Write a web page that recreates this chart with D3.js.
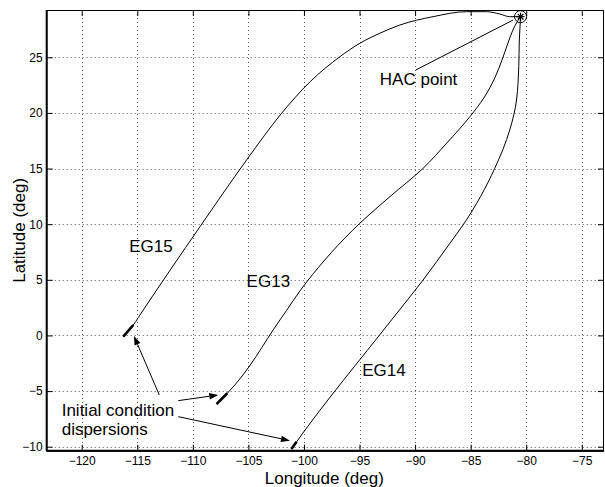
<!DOCTYPE html>
<html>
<head>
<meta charset="utf-8">
<script src="https://cdn.jsdelivr.net/npm/d3@7"></script>
<style>
  body { margin: 0; background: #fff; }
  text { font-family: "Liberation Sans", Arial, sans-serif; fill: #000; }
</style>
</head>
<body>
<div id="wrapper"></div>
<script>
// trajectories (longitude / latitude in deg)
const lonEG15 = [-116.26, -115.36, -114.46, -109.36, -105.16, -102.01, -99.47, -96.77, -94.97, -93.17, -91.37, -88.38, -85.37, -83.57, -82.38, -81.48, -80.51]
const latEG15 = [-0.11, 0.94, 2.29, 9.77, 15.77, 19.97, 22.78, 25.05, 26.26, 27.16, 27.90, 28.65, 29.10, 29.10, 28.89, 28.65, 28.65]

const lonEG13 = [-107.86, -106.90, -102.16, -99.76, -94.97, -92.27, -89.28, -87.14, -85.07, -83.82, -82.83, -82.11, -81.48, -81.03, -80.51]
const latEG13 = [-6.16, -5.20, 1.39, 4.80, 10.08, 12.47, 15.02, 17.30, 19.66, 21.34, 23.14, 24.94, 26.73, 27.81, 28.65]

const lonEG14 = [-101.13, -100.66, -92.12, -89.28, -86.87, -85.68, -82.83, -81.48, -80.87, -80.67, -80.62, -80.51]
const latEG14 = [-10.21, -9.55, 1.39, 4.98, 8.28, 9.93, 15.02, 18.47, 21.16, 24.16, 26.55, 28.65]

const hacPoint = [-80.51, 28.65]

const xTicks = [-120, -115, -110, -105, -100, -95, -90, -85, -80, -75]
const yTicks = [-10, -5, 0, 5, 10, 15, 20, 25]

const labels = [
    { text: "EG15", lon: -115.72, lat: 7.53 },
    { text: "EG13", lon: -105.16, lat: 4.38 },
    { text: "EG14", lon: -94.76, lat: -3.64 },
    { text: "HAC point", lon: -93.17, lat: 22.51 },
    { text: "Initial condition", lon: -121.80, lat: -7.24 },
    { text: "dispersions", lon: -121.80, lat: -8.95 },
]

// [from lon, from lat, to lon, to lat]
const arrows = [
    [-113.02, -5.35, -115.30, -0.05],
    [-111.31, -5.86, -107.71, -5.35],
    [-111.31, -7.30, -101.26, -9.46],
]
const hacLine = [-89.93, 23.86, -81.18, 28.35]

const dimensions = {
    width: 605,
    height: 487,
    left: 46.7,
    right: 604,
    top: 10,
    bottom: 450.7,
}

const svg = d3.select("#wrapper")
    .append("svg")
    .attr("width", dimensions.width)
    .attr("height", dimensions.height)

const xScale = d3.scaleLinear()
    .domain([-123.15, -73.0])
    .range([dimensions.left, dimensions.right])
const yScale = d3.scaleLinear()
    .domain([-10.36, 29.25])
    .range([dimensions.bottom, dimensions.top])

svg.append("defs").append("clipPath").attr("id", "plot")
    .append("rect")
    .attr("x", dimensions.left).attr("y", dimensions.top)
    .attr("width", dimensions.right - dimensions.left)
    .attr("height", dimensions.bottom - dimensions.top)

// grid
const grid = svg.append("g")
    .attr("stroke", "#555")
    .attr("stroke-width", 1)
    .attr("stroke-dasharray", "1,3")
grid.selectAll(".gx").data(xTicks).enter().append("line")
    .attr("x1", d => Math.round(xScale(d)) + 0.5).attr("x2", d => Math.round(xScale(d)) + 0.5)
    .attr("y1", dimensions.top).attr("y2", dimensions.bottom)
grid.selectAll(".gy").data(yTicks).enter().append("line")
    .attr("y1", d => Math.round(yScale(d)) + 0.5).attr("y2", d => Math.round(yScale(d)) + 0.5)
    .attr("x1", dimensions.left).attr("x2", dimensions.right)

// axes, ticks pointing inward on all four sides
const tickLen = 6
const minus = d => String(d).replace("-", "\u2212")
const xAxisBottom = d3.axisBottom(xScale).tickValues(xTicks).tickSize(-tickLen).tickPadding(6).tickFormat(minus)
const xAxisTop = d3.axisTop(xScale).tickValues(xTicks).tickSize(-tickLen).tickFormat("")
const yAxisLeft = d3.axisLeft(yScale).tickValues(yTicks).tickSize(-tickLen).tickPadding(4).tickFormat(minus)
const yAxisRight = d3.axisRight(yScale).tickValues(yTicks).tickSize(-tickLen).tickFormat("")

function styleAxis(g) {
    g.select(".domain").remove()
    g.selectAll(".tick line").attr("stroke", "#000")
    g.selectAll(".tick text")
        .style("font-family", "'Liberation Sans', Arial, sans-serif")
        .style("font-size", "12px")
        .attr("fill", "#000")
}

svg.append("g").attr("transform", `translate(0,${dimensions.bottom})`).call(xAxisBottom).call(styleAxis)
svg.append("g").attr("transform", `translate(0,${dimensions.top})`).call(xAxisTop).call(styleAxis)
svg.append("g").attr("transform", `translate(${dimensions.left},0)`).call(yAxisLeft).call(styleAxis)
svg.append("g").attr("transform", `translate(${dimensions.right},0)`).call(yAxisRight).call(styleAxis)

// box
svg.append("rect")
    .attr("x", dimensions.left).attr("y", dimensions.top + 0.5)
    .attr("width", dimensions.right - dimensions.left - 0.5)
    .attr("height", dimensions.bottom - dimensions.top)
    .attr("fill", "none").attr("stroke", "#000").attr("stroke-width", 1)
svg.append("line")
    .attr("x1", dimensions.left).attr("x2", dimensions.right)
    .attr("y1", dimensions.bottom).attr("y2", dimensions.bottom)
    .attr("stroke", "#000").attr("stroke-width", 2)
svg.append("line")
    .attr("x1", dimensions.left).attr("x2", dimensions.left)
    .attr("y1", dimensions.top).attr("y2", dimensions.bottom)
    .attr("stroke", "#000").attr("stroke-width", 2)

// trajectories
const lineX = d3.line().x(d => xScale(d[0])).y(d => yScale(d[1])).curve(d3.curveMonotoneX)
const lineY = d3.line().x(d => xScale(d[0])).y(d => yScale(d[1])).curve(d3.curveMonotoneY)
const straight = d3.line().x(d => xScale(d[0])).y(d => yScale(d[1]))

const paths = svg.append("g").attr("clip-path", "url(#plot)")
const trajectories = [
    { pts: d3.zip(lonEG15, latEG15), gen: lineX },
    { pts: d3.zip(lonEG13, latEG13), gen: lineY },
    { pts: d3.zip(lonEG14, latEG14), gen: lineY },
]
trajectories.forEach(t => {
    paths.append("path")
        .attr("d", t.gen(t.pts))
        .attr("fill", "none")
        .attr("stroke", "#000")
        .attr("stroke-width", 1)
    // initial condition dispersion: thick start segment
    paths.append("path")
        .attr("d", straight(t.pts.slice(0, 2)))
        .attr("stroke", "#000")
        .attr("stroke-width", 2.6)
})

// HAC point marker: circle with asterisk
const hx = xScale(hacPoint[0]), hy = yScale(hacPoint[1])
svg.append("circle")
    .attr("cx", hx).attr("cy", hy).attr("r", 6)
    .attr("fill", "none").attr("stroke", "#000")
const star = svg.append("g").attr("stroke", "#000").attr("stroke-width", 1.2)
;[0, 45, 90, 135].forEach(a => {
    const r = 4, t = a * Math.PI / 180
    star.append("line")
        .attr("x1", hx - r * Math.cos(t)).attr("y1", hy - r * Math.sin(t))
        .attr("x2", hx + r * Math.cos(t)).attr("y2", hy + r * Math.sin(t))
})

// annotations
svg.append("line")
    .attr("x1", xScale(hacLine[0])).attr("y1", yScale(hacLine[1]))
    .attr("x2", xScale(hacLine[2])).attr("y2", yScale(hacLine[3]))
    .attr("stroke", "#000")

arrows.forEach(a => {
    const x1 = xScale(a[0]), y1 = yScale(a[1]), x2 = xScale(a[2]), y2 = yScale(a[3])
    const ang = Math.atan2(y2 - y1, x2 - x1)
    const len = 9, half = 3.2
    const bx = x2 - len * Math.cos(ang), by = y2 - len * Math.sin(ang)
    svg.append("line")
        .attr("x1", x1).attr("y1", y1).attr("x2", bx).attr("y2", by)
        .attr("stroke", "#000")
    svg.append("path")
        .attr("d", `M${x2},${y2}L${bx - half * Math.sin(ang)},${by + half * Math.cos(ang)}L${bx + half * Math.sin(ang)},${by - half * Math.cos(ang)}Z`)
        .attr("fill", "#000")
})

svg.selectAll(".label").data(labels).enter().append("text")
    .attr("x", d => xScale(d.lon))
    .attr("y", d => yScale(d.lat))
    .attr("font-size", "17px")
    .text(d => d.text)

// axis titles
svg.append("text")
    .attr("x", (dimensions.left + dimensions.right) / 2 - 1)
    .attr("y", 484)
    .attr("text-anchor", "middle")
    .attr("font-size", "17px")
    .text("Longitude (deg)")

svg.append("text")
    .attr("transform", `translate(25,${(dimensions.top + dimensions.bottom) / 2}) rotate(-90)`)
    .attr("text-anchor", "middle")
    .attr("font-size", "17px")
    .text("Latitude (deg)")
</script>
</body>
</html>
